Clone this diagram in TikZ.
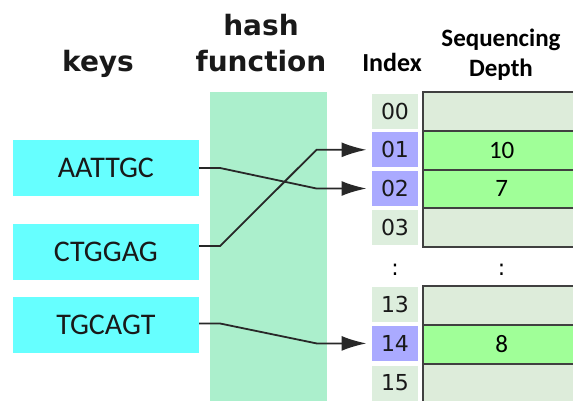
\documentclass[tikz,border=0pt]{standalone}
\usepackage{fontspec}
\setmainfont{DejaVu Sans}
\newfontfamily\calib{Carlito}
\newfontfamily\dejavu{DejaVu Sans}
\usetikzlibrary{arrows.meta,calc}
\definecolor{keycyan}{RGB}{102,255,255}
\definecolor{bandgreen}{RGB}{171,239,204}
\definecolor{idxlight}{RGB}{221,238,221}
\definecolor{idxpurple}{RGB}{170,170,255}
\definecolor{rowlight}{RGB}{221,236,218}
\definecolor{rowgreen}{RGB}{160,255,152}
\definecolor{edgegray}{RGB}{64,64,64}
\definecolor{linegray}{RGB}{40,40,40}
\definecolor{headgray}{RGB}{25,25,25}
\begin{document}
\begin{tikzpicture}[x=1pt,y=-1pt,
  keybox/.style={fill=keycyan, minimum width=186pt, minimum height=56pt, inner sep=0pt,
    font=\calib\fontsize{30}{30}\selectfont, text=headgray},
  header/.style={font=\dejavu\bfseries\fontsize{28}{28}\selectfont, anchor=base, inner sep=0pt, text=headgray},
  subheader/.style={font=\calib\bfseries\fontsize{25}{25}\selectfont, anchor=base, inner sep=0pt},
  idxcell/.style={fill=idxlight, minimum width=46.6pt, minimum height=35pt, inner sep=0pt,
    font=\dejavu\fontsize{22}{22}\selectfont, text=headgray},
  idxhit/.style={idxcell, fill=idxpurple},
  rowcell/.style={draw=edgegray, fill=rowlight, line width=2pt, minimum width=156.8pt,
    minimum height=38.7pt, inner sep=0pt, font=\calib\fontsize{25}{25}\selectfont},
  rowhit/.style={rowcell, fill=rowgreen},
  dotsnode/.style={font=\dejavu\fontsize{22}{22}\selectfont, anchor=base, inner sep=0pt},
  conn/.style={draw=linegray, line width=1.8pt, -{Latex[length=25pt,width=15pt]}, shorten >=5pt}
]
\useasboundingbox (0,0) rectangle (573,400);
\clip (0,0) rectangle (573,400);
\fill[white] (0,0) rectangle (573,400);

% hash function band
\fill[bandgreen] (210,92.3) rectangle (326.7,402);

% headers
\node[header] (keys) at (98,71.7) {keys};
\node[header] (hash) at (261,35) {hash};
\node[header] (func) at (261,71.7) {function};
\node[subheader, font=\calib\bfseries\fontsize{26}{26}\selectfont] (index) at (392,71.7) {Index};
\node[subheader] (seq) at (501,46.7) {Sequencing};
\node[subheader] (depth) at (501,76) {Depth};

% keys
\node[keybox] (k1) at (105.9,168) {AATTGC};
\node[keybox] (k2) at (105.9,252) {CTGGAG};
\node[keybox] (k3) at (105.9,325) {TGCAGT};

% table rows
\node[rowcell] (t00) at (501.7,111.5) {};
\node[rowhit]  (t01) at (501.7,150.2) {10};
\node[rowhit]  (t02) at (501.7,188.9) {7};
\node[rowcell] (t03) at (501.7,227.6) {};
\node[rowcell] (t13) at (501.7,305.5) {};
\node[rowhit]  (t14) at (501.7,344.2) {8};
\node[rowcell] (t15) at (501.7,382.9) {};

% index cells
\node[idxcell] (i00) at (395,111.2) {00};
\node[idxhit]  (i01) at (395,149.8) {01};
\node[idxhit]  (i02) at (395,188.5) {02};
\node[idxcell] (i03) at (395,227.4) {03};
\node[idxcell] (i13) at (395,304.5) {13};
\node[idxhit]  (i14) at (395,343.4) {14};
\node[idxcell] (i15) at (395,383) {15};

% ellipsis
\node[dotsnode] (d1) at (395,275) {:};
\node[dotsnode] (d2) at (501.7,275) {:};

% connectors
\draw[conn] (k1.east) -- ++(21,0) -- ($(i02.west)+(-55,0)$) -- (i02.west);
\draw[conn] ([yshift=6pt]k2.east) -- ++(21,0) -- ($(i01.west)+(-55,0)$) -- (i01.west);
\draw[conn] ([yshift=1.5pt]k3.east) -- ++(21,0) -- ($(i14.west)+(-55,0)$) -- (i14.west);
\end{tikzpicture}
\end{document}
